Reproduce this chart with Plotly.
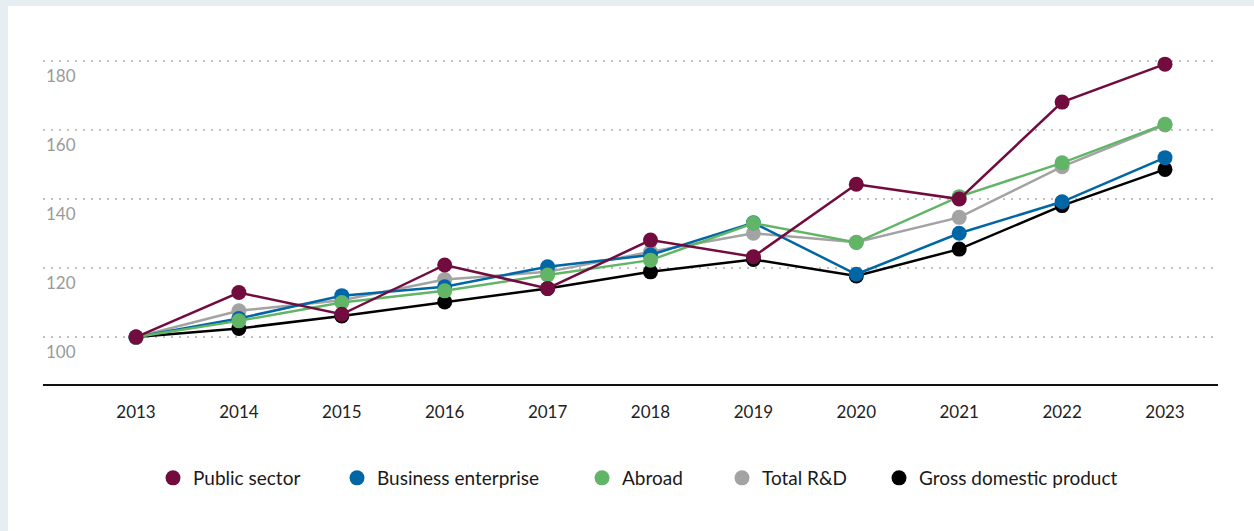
import plotly.graph_objects as go

years = [2013, 2014, 2015, 2016, 2017, 2018, 2019, 2020, 2021, 2022, 2023]

public_sector = [100, 112.9, 106.6, 120.9, 114.1, 128.1, 123.3, 144.3, 140.0, 168.1, 179.1]
business_enterprise = [100, 105.4, 112.0, 114.6, 120.4, 123.8, 133.1, 118.2, 130.1, 139.2, 152.0]
abroad = [100, 104.7, 110.0, 113.4, 118.0, 122.3, 133.0, 127.4, 140.7, 150.5, 161.7]
total_rd = [100, 107.6, 110.7, 116.7, 118.9, 124.7, 130.1, 127.5, 134.7, 149.4, 161.5]
gdp = [100, 102.5, 106.1, 110.2, 114.1, 118.9, 122.5, 117.7, 125.5, 138.1, 148.6]

y_ticks = [100, 120, 140, 160, 180]

# drawing order bottom -> top, with legend slot and legend marker position (px)
series = [
    ("Gross domestic product", gdp, "#000000", "legend5", 899),
    ("Total R&D", total_rd, "#A3A3A3", "legend4", 742),
    ("Business enterprise", business_enterprise, "#0066A6", "legend2", 357),
    ("Abroad", abroad, "#62B566", "legend3", 602),
    ("Public sector", public_sector, "#730C3E", "legend", 173),
]

W, H = 1254, 531
FONT = "Lato, 'Open Sans', sans-serif"
ML, MR, MT, MB = 43, 36, 40, 147

fig = go.Figure()

for name, vals, color, leg, _ in series:
    fig.add_trace(go.Scatter(
        x=years, y=vals, mode="lines+markers", name=name,
        line=dict(color=color, width=2.5),
        marker=dict(color=color, size=15),
        showlegend=False, hoverinfo="x+y+name",
    ))

# legend entries (dot only), one small legend each so spacing follows the original
legends = {}
for name, vals, color, leg, px in series:
    fig.add_trace(go.Scatter(
        x=[None], y=[None], mode="markers", name=name,
        marker=dict(color=color, size=15),
        legend=leg, showlegend=True,
    ))
    legends[leg] = dict(
        xref="container", yref="container",
        x=(px - 20) / W, y=1 - 478 / H,
        xanchor="left", yanchor="middle",
        orientation="h", bgcolor="rgba(0,0,0,0)",
        font=dict(family=FONT, size=19, color="#1a1a1a"),
    )

# white card on light frame
pw, ph = W - ML - MR, H - MT - MB
fig.add_shape(
    type="rect", xref="paper", yref="paper", layer="below",
    x0=(8 - ML) / pw, x1=(W + 10 - ML) / pw,
    y0=-(MB + 10) / ph, y1=(H - MB - 6) / ph,
    fillcolor="white", line=dict(width=0),
)

# x range so that 2013 sits at px 136 and 2023 at px 1165
px_per_year = (1165 - 136) / 10
x0 = 2013 - (136 - ML) / px_per_year
x1 = 2023 + (W - MR - 1165) / px_per_year

fig.update_layout(
    width=W, height=H,
    margin=dict(l=ML, r=MR, t=MT, b=MB),
    paper_bgcolor="#E7EEF1",
    plot_bgcolor="rgba(0,0,0,0)",
    font=dict(family=FONT),
    **legends,
    xaxis=dict(
        range=[x0, x1],
        tickvals=years, ticktext=[str(y) for y in years],
        showgrid=False, zeroline=False,
        showline=True, linecolor="#111111", linewidth=2,
        ticks="", ticklabelstandoff=12,
        tickfont=dict(family=FONT, size=17, color="#222222"),
    ),
    yaxis=dict(
        range=[86.4, 186.1],
        tickvals=y_ticks,
        showgrid=True, gridcolor="#C2C2C2", gridwidth=2, griddash="2px,6px",
        zeroline=False, showline=False, ticks="",
        ticklabelposition="inside", ticklabelshift=15,
        tickfont=dict(family=FONT, size=17, color="#9A9A9A"),
    ),
)

fig.write_html(
    "out.html",
    config={"displayModeBar": False},
    post_script="document.body.style.margin='0';",
)
